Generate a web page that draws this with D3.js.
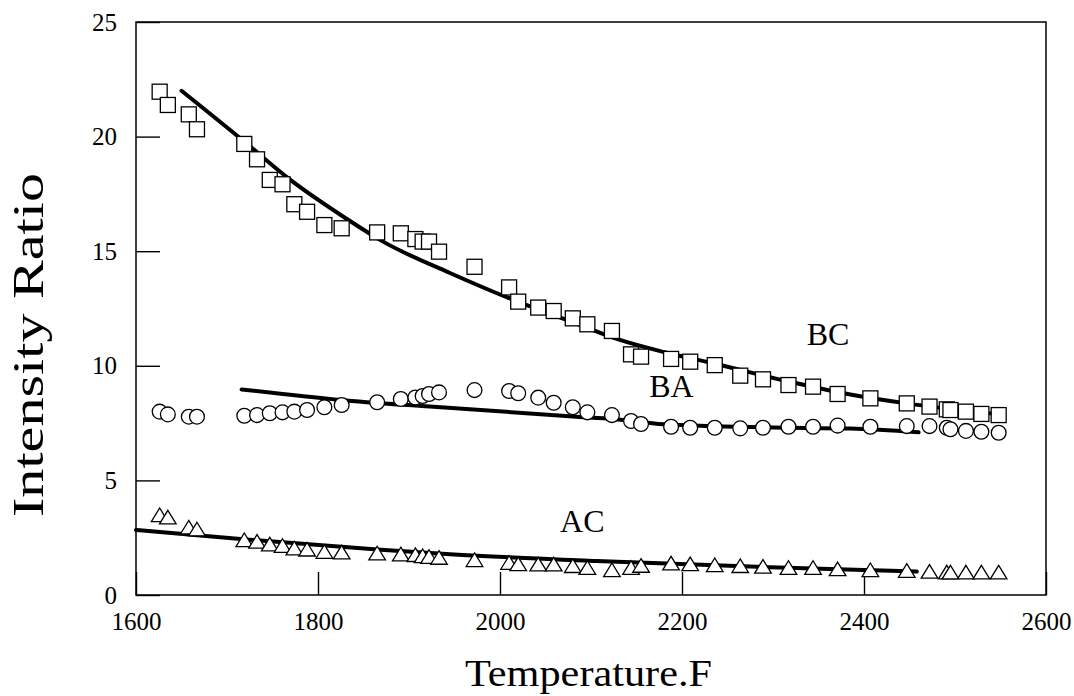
<!DOCTYPE html>
<html>
<head>
<meta charset="utf-8">
<script src="https://cdn.jsdelivr.net/npm/d3@7"></script>
<style>
  html, body { margin: 0; padding: 0; background: #fff; }
  svg { display: block; }
  text { font-family: "Liberation Serif", "Times New Roman", serif; fill: #000; }
</style>
</head>
<body>
<svg id="chart" width="1074" height="696"></svg>
<script>
// ---- data ----
const temperatures = [1626, 1635, 1658, 1667, 1719, 1733, 1747, 1761, 1774, 1788, 1807, 1826,
  1865, 1891, 1907, 1915, 1922, 1933, 1972, 2010, 2020, 2042, 2059, 2080, 2096, 2123, 2144,
  2155, 2188, 2209, 2236, 2264, 2289, 2317, 2344, 2371, 2407, 2447, 2472, 2491, 2495, 2512,
  2529, 2548];
const bcValues = [21.96, 21.38, 20.97, 20.32, 19.68, 19.01, 18.11, 17.92, 17.05, 16.72, 16.14, 16.0,
  15.82, 15.78, 15.53, 15.42, 15.42, 14.98, 14.32, 13.42, 12.80, 12.54, 12.39, 12.07, 11.81, 11.52, 10.50,
  10.40, 10.30, 10.18, 10.03, 9.57, 9.41, 9.16, 9.09, 8.77, 8.58, 8.36, 8.22, 8.10, 8.07, 8.00,
  7.90, 7.85];
const baValues = [8.00, 7.88, 7.78, 7.78, 7.82, 7.85, 7.93, 7.97, 8.00, 8.07, 8.19, 8.29,
  8.41, 8.55, 8.62, 8.68, 8.77, 8.84, 8.94, 8.90, 8.80, 8.61, 8.39, 8.19, 7.97, 7.85, 7.59,
  7.46, 7.34, 7.30, 7.30, 7.27, 7.30, 7.34, 7.34, 7.39, 7.34, 7.37, 7.37, 7.30, 7.23, 7.16,
  7.12, 7.08];
const acValues = [3.49, 3.39, 2.95, 2.87, 2.40, 2.33, 2.21, 2.15, 2.04, 1.99, 1.89, 1.86,
  1.82, 1.78, 1.75, 1.70, 1.67, 1.63, 1.53, 1.41, 1.35, 1.34, 1.34, 1.27, 1.19, 1.09, 1.19,
  1.28, 1.38, 1.35, 1.31, 1.27, 1.24, 1.19, 1.19, 1.13, 1.09, 1.06, 1.02, 0.99, 0.99, 0.99,
  0.99, 0.99];

// fitted curves
const bcFitT = [1650, 1720, 1770, 1830, 1870, 1945, 2010, 2080, 2130, 2180, 2235, 2310, 2385, 2447, 2550];
const bcFitV = [22.0, 19.75, 18.1, 16.45, 15.45, 14.05, 12.95, 11.9, 11.15, 10.6, 10.1, 9.38, 8.75, 8.36, 7.88];
const baFitT = [1716, 1824, 1923, 2084, 2125, 2180, 2300, 2385, 2460];
const baFitV = [8.97, 8.51, 8.22, 7.78, 7.68, 7.45, 7.31, 7.26, 7.10];
const acFitT = [1600, 1718, 1865, 1945, 2106, 2275, 2400, 2458];
const acFitV = [2.84, 2.43, 1.99, 1.78, 1.48, 1.24, 1.09, 1.02];

const xTicks = [1600, 1800, 2000, 2200, 2400, 2600];
const yTicks = [0, 5, 10, 15, 20, 25];
const seriesLabels = [
  { text: "BC", t: 2337, v: 10.9 },
  { text: "BA", t: 2164, v: 8.63 },
  { text: "AC", t: 2066, v: 2.75 }
];
const xTitle = "Temperature.F";
const yTitle = "Intensity Ratio";

// ---- drawing ----
const svg = d3.select("#chart");
const x = d3.scaleLinear().domain([1600, 2600]).range([136, 1046]);
const y = d3.scaleLinear().domain([0, 25]).range([595, 22]);

svg.append("rect").attr("width", 1074).attr("height", 696).attr("fill", "#fff");

// x axis
const gx = svg.append("g").attr("transform", `translate(0,${y(0)})`)
  .call(d3.axisBottom(x).tickValues(xTicks).tickFormat(d3.format("d"))
    .tickSizeInner(-23).tickSizeOuter(0).tickPadding(17));
gx.select(".domain").remove();
gx.selectAll("line").attr("stroke", "#000").attr("stroke-width", 1.4);
gx.selectAll("text").attr("font-size", 25).style("font-family", '"Liberation Serif", serif');

// y axis
const gy = svg.append("g").attr("transform", `translate(${x(1600)},0)`)
  .call(d3.axisLeft(y).tickValues(yTicks).tickFormat(d3.format("d"))
    .tickSizeInner(-24).tickSizeOuter(0).tickPadding(19));
gy.select(".domain").remove();
gy.selectAll("line").attr("stroke", "#000").attr("stroke-width", 1.4);
gy.selectAll("text").attr("font-size", 25).style("font-family", '"Liberation Serif", serif');

// frame
svg.append("rect")
  .attr("x", x(1600)).attr("y", y(25))
  .attr("width", x(2600) - x(1600)).attr("height", y(0) - y(25))
  .attr("fill", "none").attr("stroke", "#000").attr("stroke-width", 1.5);

// fit lines
const fits = [
  d3.zip(bcFitT, bcFitV),
  d3.zip(baFitT, baFitV),
  d3.zip(acFitT, acFitV)
];
svg.append("g").selectAll("path").data(fits).join("path")
  .attr("d", d3.line().x(d => x(d[0])).y(d => y(d[1])).curve(d3.curveMonotoneX))
  .attr("fill", "none").attr("stroke", "#000").attr("stroke-width", 4)
  .attr("stroke-linecap", "round");

// markers
const bcPts = d3.zip(temperatures, bcValues);
const baPts = d3.zip(temperatures, baValues);
const acPts = d3.zip(temperatures, acValues);

svg.append("g").selectAll("rect").data(bcPts).join("rect")
  .attr("x", d => x(d[0]) - 7.5).attr("y", d => y(d[1]) - 7.5)
  .attr("width", 15).attr("height", 15)
  .attr("fill", "#fff").attr("stroke", "#000").attr("stroke-width", 1.3);

svg.append("g").selectAll("circle").data(baPts).join("circle")
  .attr("cx", d => x(d[0])).attr("cy", d => y(d[1])).attr("r", 7.4)
  .attr("fill", "#fff").attr("stroke", "#000").attr("stroke-width", 1.3);

svg.append("g").selectAll("path").data(acPts).join("path")
  .attr("transform", d => `translate(${x(d[0])},${y(d[1])})`)
  .attr("d", "M0,-7L8.3,6.6L-8.3,6.6Z")
  .attr("fill", "#fff").attr("stroke", "#000").attr("stroke-width", 1.3)
  .attr("stroke-linejoin", "miter");

// series labels
svg.append("g").selectAll("text").data(seriesLabels).join("text")
  .attr("x", d => x(d.t)).attr("y", d => y(d.v))
  .attr("font-size", 32)
  .text(d => d.text);

// axis titles
svg.append("text")
  .attr("x", 465).attr("y", 686)
  .attr("font-size", 37)
  .attr("textLength", 247).attr("lengthAdjust", "spacingAndGlyphs")
  .text(xTitle);

svg.append("text")
  .attr("transform", "translate(43,517) rotate(-90)")
  .attr("x", 0).attr("y", 0)
  .attr("font-size", 45)
  .attr("textLength", 344).attr("lengthAdjust", "spacingAndGlyphs")
  .text(yTitle);
</script>
</body>
</html>
